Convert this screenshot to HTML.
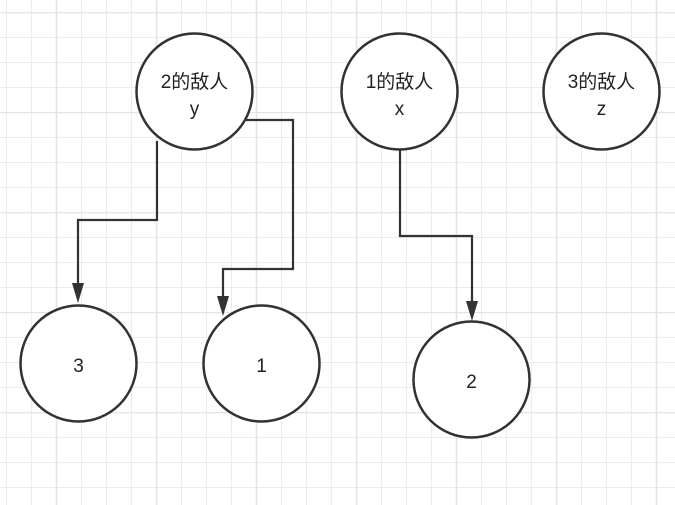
<!DOCTYPE html>
<html><head><meta charset="utf-8"><style>
html,body{margin:0;padding:0;background:#fff;}
svg{display:block;}
text{font-family:"Liberation Sans","Noto Sans CJK SC",sans-serif;font-size:19px;fill:#222;text-anchor:middle;}
</style></head><body>
<svg width="675" height="505" viewBox="0 0 675 505" xmlns="http://www.w3.org/2000/svg">
<defs>
<pattern id="minor" x="6" y="12" width="25" height="25" patternUnits="userSpaceOnUse">
<path d="M0.5 0V25M0 0.5H25" stroke="#ececec" stroke-width="1" fill="none"/>
</pattern>
<pattern id="major" x="6" y="12" width="100" height="100" patternUnits="userSpaceOnUse">
<path d="M50.5 0V100M0 0.5H100" stroke="#e4e4e4" stroke-width="1.5" fill="none"/>
</pattern>
</defs>
<rect width="675" height="505" fill="url(#minor)"/>
<rect width="675" height="505" fill="url(#major)"/>
<g fill="none" stroke="#333" stroke-width="2.2">
<path d="M157 141V220H78V285"/>
<path d="M246 120H293V269H223V297"/>
<path d="M400 150V236H472V302"/>
</g>
<g fill="#333">
<polygon points="72,283 84,283 78,303"/>
<polygon points="217,296 229,296 223,316"/>
<polygon points="466,301 478,301 472,321"/>
</g>
<g fill="#fff" stroke="#2f3336" stroke-width="2.5">
<circle cx="194.5" cy="91.5" r="58"/>
<circle cx="399.5" cy="91.5" r="58"/>
<circle cx="601.5" cy="91.5" r="58"/>
<circle cx="78.5" cy="363.5" r="58"/>
<circle cx="261.5" cy="363.5" r="58"/>
<circle cx="471.5" cy="379.5" r="58"/>
</g>
<text x="194.5" y="88">2的敌人</text><text x="194.5" y="115">y</text>
<text x="399.5" y="88">1的敌人</text><text x="399.5" y="115">x</text>
<text x="601.5" y="88">3的敌人</text><text x="601.5" y="115">z</text>
<text x="78.5" y="372">3</text>
<text x="261.5" y="372">1</text>
<text x="471.5" y="388">2</text>
</svg>
</body></html>
